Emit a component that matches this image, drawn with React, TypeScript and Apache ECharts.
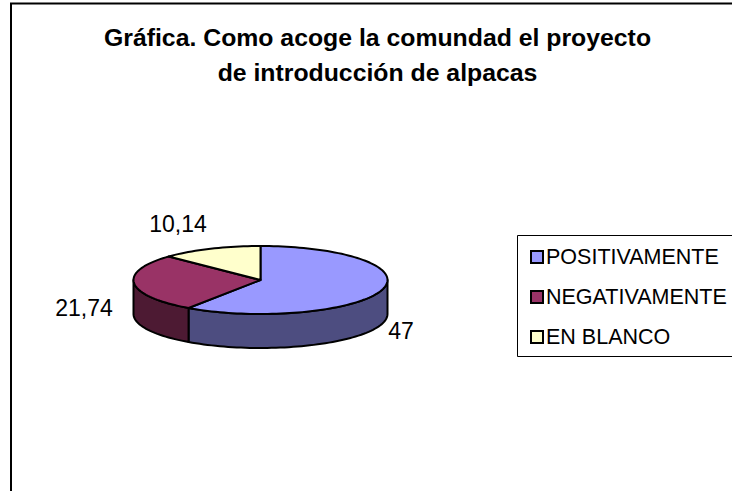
import React, { useEffect, useRef } from "react";
import * as echarts from "echarts";

const categories = ["POSITIVAMENTE", "NEGATIVAMENTE", "EN BLANCO"];
const values = [47, 21.74, 10.14];
const topColors = ["#9999FF", "#993366", "#FFFFCC"];
const sideColors = ["#4D4D80", "#4D1A33", "#808066"];
const titleLines = ["Gráfica. Como acoge la comundad el proyecto", "de introducción de alpacas"];
const labelPositions = [[401, 331], [84, 308], [178, 224]];

const CX = 260.5;
const CY = 280;
const RX = 127;
const RY = 34;
const DEPTH = 34;
const total = values.reduce((a, b) => a + b, 0);

function pt(deg: number, dy = 0): number[] {
  const r = (deg * Math.PI) / 180;
  return [CX + RX * Math.sin(r), CY - RY * Math.cos(r) + dy];
}

function arc(a0: number, a1: number, dy = 0): number[][] {
  const n = Math.max(2, Math.ceil(Math.abs(a1 - a0) / 2));
  const out: number[][] = [];
  for (let i = 0; i <= n; i++) out.push(pt(a0 + ((a1 - a0) * i) / n, dy));
  return out;
}

function makeRender(idx: number) {
  return (_p: any, api: any) => {
    const before = values.slice(0, idx).reduce((a, b) => a + b, 0);
    const a0 = (before / total) * 360;
    const a1 = a0 + (api.value(0) / total) * 360;
    const children: any[] = [];
    const s0 = Math.max(a0, 90);
    const s1 = Math.min(a1, 270);
    const line = { stroke: "#000", lineWidth: 2, lineJoin: "round" };
    if (s1 > s0) {
      children.push({
        type: "polygon",
        shape: { points: [...arc(s0, s1), ...arc(s1, s0, DEPTH)] },
        style: { fill: sideColors[idx], ...line },
      });
    }
    children.push({
      type: "polygon",
      shape: { points: [[CX, CY], ...arc(a0, a1)] },
      style: { fill: topColors[idx], ...line },
    });
    children.push({
      type: "text",
      style: {
        x: labelPositions[idx][0],
        y: labelPositions[idx][1],
        text: String(api.value(0)).replace(".", ","),
        fill: "#000",
        font: '23px "Liberation Sans", Arial, sans-serif',
        align: "center",
        verticalAlign: "middle",
      },
    });
    return { type: "group", children };
  };
}

export default function App() {
  const ref = useRef<HTMLDivElement>(null);
  useEffect(() => {
    const chart = echarts.init(ref.current!, undefined, { renderer: "svg" });
    chart.setOption({
      animation: false,
      backgroundColor: "#fff",
      title: {
        text: titleLines.join("\n"),
        left: 372.5,
        top: 15,
        textAlign: "center",
        textStyle: {
          fontFamily: '"Liberation Sans", Arial, sans-serif',
          fontSize: 24.8,
          fontWeight: "bold",
          color: "#000",
          lineHeight: 35,
          align: "center",
        },
      },
      graphic: [
        { type: "rect", z: -1, shape: { x: 11, y: 3.5, width: 800, height: 600 }, style: { fill: "none", stroke: "#000", lineWidth: 2 } },
        { type: "rect", z: -1, shape: { x: 517.5, y: 235.5, width: 300, height: 121 }, style: { fill: "#fff", stroke: "#000", lineWidth: 1 } },
      ],
      legend: {
        left: 525,
        top: 241,
        orient: "vertical",
        itemWidth: 12,
        itemHeight: 12,
        itemGap: 18,
        data: categories.map((name, i) => ({
          name,
          icon: "rect",
          itemStyle: { color: topColors[i], borderColor: "#000", borderWidth: 2 },
        })),
        textStyle: {
          fontFamily: '"Liberation Sans", Arial, sans-serif',
          fontSize: 21.5,
          color: "#000",
          padding: [0, 0, 0, -2],
        },
      },
      series: categories.map((name, i) => ({
        type: "custom",
        name,
        coordinateSystem: "none",
        data: [[values[i]]],
        itemStyle: { color: topColors[i] },
        renderItem: makeRender(i),
        silent: true,
      })),
    });
    return () => chart.dispose();
  }, []);
  return <div ref={ref} style={{ position: "absolute", left: 0, top: 0, width: 732, height: 491 }} />;
}
